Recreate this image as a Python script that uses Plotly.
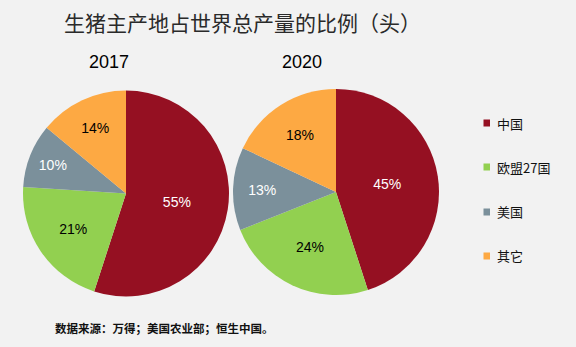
import plotly.graph_objects as go

title_text = "生猪主产地占世界总产量的比例（头）"
source_text = "数据来源：万得；美国农业部；恒生中国。"
categories = ["中国", "欧盟27国", "美国", "其它"]
years = ["2017", "2020"]
values_2017 = [55, 21, 10, 14]
values_2020 = [45, 24, 13, 18]
colors = ["#951022", "#92d050", "#7b909b", "#fda943"]
text_colors = ["white", "black", "white", "black"]

W, H = 576, 347

def px_x(x):
    return x / W

def px_y(y):
    return 1 - y / H

fig = go.Figure()
domains = [
    dict(x=[px_x(23), px_x(229)], y=[px_y(296.5), px_y(90.5)]),
    dict(x=[px_x(233), px_x(439)], y=[px_y(295), px_y(89)]),
]
for vals, dom in zip([values_2017, values_2020], domains):
    fig.add_trace(go.Pie(
        labels=categories,
        values=vals,
        sort=False,
        direction="clockwise",
        rotation=0,
        domain=dom,
        marker=dict(colors=colors, line=dict(width=0)),
        texttemplate="%{value}%",
        textposition="inside",
        insidetextorientation="horizontal",
        textfont=dict(family="Liberation Sans, Arial", size=14, color=text_colors),
        showlegend=False,
        hoverinfo="label+value",
    ))

annotations = [
    dict(text=title_text, x=px_x(62), y=px_y(22), xanchor="left", yanchor="middle",
         font=dict(family="Noto Sans CJK SC", size=21, color="#2a2a2a")),
    dict(text=years[0], x=px_x(109), y=px_y(62), xanchor="center", yanchor="middle",
         font=dict(family="Liberation Sans, Arial", size=18, color="black")),
    dict(text=years[1], x=px_x(302), y=px_y(62), xanchor="center", yanchor="middle",
         font=dict(family="Liberation Sans, Arial", size=18, color="black")),
    dict(text="<b>" + source_text + "</b>", x=px_x(53), y=px_y(328), xanchor="left", yanchor="middle",
         font=dict(family="Noto Sans CJK SC", size=11.5, color="#111111")),
]
shapes = []
legend_y = [123, 167, 212, 256]
for cat, col, ly in zip(categories, colors, legend_y):
    shapes.append(dict(type="rect", xref="paper", yref="paper",
                       x0=px_x(483.5), x1=px_x(490), y0=px_y(ly + 3.5), y1=px_y(ly - 3.5),
                       fillcolor=col, line=dict(width=0)))
    annotations.append(dict(text=cat, x=px_x(495), y=px_y(ly), xanchor="left", yanchor="middle",
                            font=dict(family="Noto Sans CJK SC", size=13, color="#111111")))

for a in annotations:
    a.update(xref="paper", yref="paper", showarrow=False)

fig.update_layout(
    width=W, height=H,
    margin=dict(l=0, r=0, t=0, b=0),
    paper_bgcolor="#f2f2f2",
    plot_bgcolor="#f2f2f2",
    annotations=annotations,
    shapes=shapes,
    showlegend=False,
)

fig.write_html("out.html")
